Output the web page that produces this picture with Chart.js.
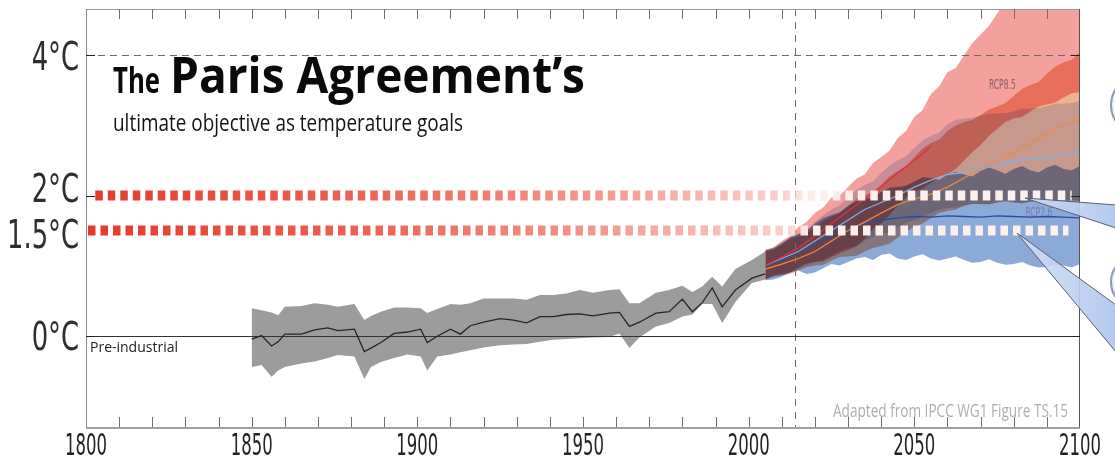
<!DOCTYPE html>
<html>
<head>
<meta charset="utf-8">
<title>The Paris Agreement's temperature goals</title>
<script src="https://cdn.jsdelivr.net/npm/chart.js@4.4.1/dist/chart.umd.min.js"></script>
<style>
  html, body { margin: 0; padding: 0; background: #fff; }
  #chart { display: block; }
</style>
</head>
<body>
<canvas id="chart" width="1115" height="468"></canvas>
<script>
const NARROW = "'Liberation Sans Narrow', 'DejaVu Sans Condensed', 'Roboto', sans-serif";
const SANS = "'Open Sans', 'Noto Sans', sans-serif";

// axes
const xTicks = [1800, 1850, 1900, 1950, 2000, 2050, 2100];
const yTicks = [0, 1.5, 2, 4];
const yTickLabels = ['0°C', '1.5°C', '2°C', '4°C'];
const yMajor = [0, 2, 4];

// simulated historical warming, mean and 5-95% range
const histYears = [1850, 1853, 1856, 1858, 1860, 1865, 1869, 1873, 1876, 1881, 1884, 1886, 1889, 1893, 1897,
  1901, 1903, 1906, 1910, 1913, 1916, 1920, 1925, 1929, 1933, 1937, 1941, 1945, 1949, 1953,
  1958, 1961, 1964, 1967, 1972, 1976, 1980, 1983, 1986, 1989, 1992, 1996, 2001, 2005];
const histMean = [-0.05, 0.0, -0.15, -0.09, 0.02, 0.02, 0.08, 0.11, 0.07, 0.09, -0.23, -0.18, -0.1, 0.03, 0.05,
  0.09, -0.1, -0.01, 0.09, 0.02, 0.14, 0.19, 0.24, 0.22, 0.18, 0.27, 0.27, 0.3, 0.31, 0.28,
  0.32, 0.33, 0.13, 0.19, 0.32, 0.34, 0.52, 0.34, 0.47, 0.68, 0.41, 0.65, 0.82, 0.88];
const histHigh = [0.39, 0.36, 0.33, 0.29, 0.41, 0.42, 0.46, 0.44, 0.41, 0.45, 0.22, 0.28, 0.34, 0.4, 0.4,
  0.39, 0.32, 0.38, 0.45, 0.44, 0.46, 0.53, 0.53, 0.53, 0.51, 0.58, 0.58, 0.6, 0.65, 0.61,
  0.65, 0.66, 0.46, 0.46, 0.61, 0.65, 0.71, 0.62, 0.7, 0.84, 0.7, 0.95, 1.08, 1.2];
const histLow = [-0.45, -0.42, -0.59, -0.5, -0.45, -0.4, -0.37, -0.32, -0.28, -0.3, -0.62, -0.45, -0.38, -0.32, -0.27,
  -0.3, -0.5, -0.3, -0.27, -0.24, -0.21, -0.17, -0.14, -0.13, -0.12, -0.09, -0.06, -0.05, -0.04, -0.03,
  -0.02, 0.03, -0.18, -0.03, 0.13, 0.18, 0.27, 0.3, 0.45, 0.45, 0.18, 0.48, 0.75, 0.8];

// RCP ranges (5-95%), sampled every 2.5 years
const bandYears = [2005, 2007.5, 2010, 2012.5, 2015, 2017.5, 2020, 2022.5, 2025, 2027.5,
  2030, 2032.5, 2035, 2037.5, 2040, 2042.5, 2045, 2047.5, 2050, 2052.5,
  2055, 2057.5, 2060, 2062.5, 2065, 2067.5, 2070, 2072.5, 2075, 2077.5,
  2080, 2082.5, 2085, 2087.5, 2090, 2092.5, 2095, 2097.5, 2100];
const rcp85High = [1.22, 1.26, 1.35, 1.42, 1.55, 1.62, 1.75, 1.83, 1.97, 2.0,
  2.12, 2.24, 2.3, 2.46, 2.55, 2.64, 2.82, 2.92, 3.12, 3.22,
  3.45, 3.56, 3.76, 3.82, 4.0, 4.18, 4.3, 4.42, 4.6, 4.78,
  4.9, 5.05, 5.2, 5.36, 5.5, 5.6, 5.75, 5.9, 6.0];
const rcp85Low = [0.8, 0.86, 0.88, 0.9, 0.97, 1.03, 1.05, 1.06, 1.12, 1.18,
  1.22, 1.27, 1.38, 1.52, 1.6, 1.72, 1.85, 1.97, 2.05, 2.1,
  2.18, 2.26, 2.3, 2.38, 2.5, 2.62, 2.72, 2.85, 2.95, 3.05,
  3.1, 3.12, 3.2, 3.27, 3.3, 3.33, 3.4, 3.46, 3.48];
const rcp60High = [1.2, 1.23, 1.3, 1.38, 1.42, 1.46, 1.55, 1.64, 1.7, 1.75,
  1.85, 1.95, 2.0, 2.05, 2.15, 2.27, 2.35, 2.42, 2.55, 2.67,
  2.75, 2.8, 2.92, 3.0, 3.05, 3.08, 3.15, 3.23, 3.27, 3.32,
  3.42, 3.52, 3.58, 3.62, 3.74, 3.84, 3.9, 3.94, 4.05];
const rcp60Low = [0.8, 0.84, 0.86, 0.88, 0.93, 0.98, 1.0, 1.01, 1.07, 1.12,
  1.13, 1.14, 1.2, 1.25, 1.28, 1.31, 1.4, 1.49, 1.55, 1.6,
  1.68, 1.75, 1.78, 1.8, 1.85, 1.88, 1.88, 1.87, 1.9, 1.92,
  1.9, 1.89, 1.91, 1.93, 1.92, 1.91, 1.92, 1.93, 1.92];
const rcp45High = [1.2, 1.24, 1.3, 1.4, 1.45, 1.5, 1.62, 1.72, 1.8, 1.86,
  1.97, 2.08, 2.15, 2.2, 2.32, 2.43, 2.5, 2.56, 2.68, 2.79,
  2.85, 2.9, 3.02, 3.08, 3.1, 3.11, 3.14, 3.17, 3.17, 3.18,
  3.2, 3.24, 3.24, 3.25, 3.28, 3.31, 3.31, 3.32, 3.35];
const rcp45Low = [0.8, 0.84, 0.86, 0.9, 0.95, 1.01, 1.05, 1.08, 1.15, 1.21,
  1.25, 1.28, 1.35, 1.41, 1.45, 1.48, 1.55, 1.61, 1.65, 1.69,
  1.75, 1.8, 1.82, 1.83, 1.86, 1.88, 1.88, 1.88, 1.9, 1.91,
  1.9, 1.89, 1.91, 1.93, 1.92, 1.91, 1.92, 1.93, 1.92];
const rcp26High = [1.22, 1.25, 1.32, 1.4, 1.45, 1.5, 1.6, 1.68, 1.72, 1.76,
  1.85, 1.92, 1.95, 1.97, 2.05, 2.11, 2.12, 2.14, 2.2, 2.26,
  2.25, 2.22, 2.3, 2.34, 2.3, 2.27, 2.35, 2.4, 2.36, 2.31,
  2.38, 2.42, 2.36, 2.33, 2.4, 2.44, 2.38, 2.36, 2.42];
const rcp26Low = [0.79, 0.8, 0.84, 0.9, 0.93, 0.88, 0.9, 0.96, 1.02, 1.0,
  1.05, 1.1, 1.12, 1.08, 1.15, 1.17, 1.1, 1.08, 1.13, 1.16,
  1.1, 1.07, 1.1, 1.13, 1.08, 1.04, 1.05, 1.09, 1.04, 1.01,
  1.02, 1.05, 1.0, 0.97, 0.98, 1.01, 1.0, 0.97, 1.02];

// multi-model means, every 5 years
const meanYears = [2005, 2010, 2015, 2020, 2025, 2030, 2035, 2040, 2045, 2050,
  2055, 2060, 2065, 2070, 2075, 2080, 2085, 2090, 2095, 2100];
const rcp85Mean = [1.0, 1.12, 1.25, 1.42, 1.6, 1.78, 1.95, 2.13, 2.32, 2.5, 2.7];
const rcp60Mean = [0.95, 1.02, 1.1, 1.2, 1.35, 1.5, 1.62, 1.75, 1.87, 1.95, 2.02, 2.12, 2.25, 2.38, 2.5, 2.62, 2.75, 2.88, 3.0, 3.1];
const rcp45Mean = [1.0, 1.1, 1.2, 1.35, 1.5, 1.65, 1.8, 1.9, 2.0, 2.12, 2.22, 2.3, 2.33, 2.38, 2.45, 2.5, 2.52, 2.55, 2.58, 2.62];
const rcp26Mean = [1.0, 1.08, 1.2, 1.3, 1.42, 1.52, 1.6, 1.65, 1.68, 1.7, 1.69, 1.71, 1.7, 1.69, 1.71, 1.7, 1.69, 1.7, 1.69, 1.68];

// Paris goals and reference markers
const goalLevels = [2, 1.5];
const goalStart = [1802.8, 1800.6];
const goalEnd = [2097.5, 2096.5];
const ceilingLevel = 4;
const todayYear = 2014;

const pts = (xs, ys) => ys.map((y, i) => ({ x: xs[i], y }));

function goalGradient(context) {
  const area = context.chart.chartArea;
  if (!area) return 'rgb(232,60,48)';
  const g = context.chart.ctx.createLinearGradient(area.left, 0, area.right, 0);
  g.addColorStop(0, 'rgb(230,56,44)');
  g.addColorStop(0.3, 'rgb(236,102,90)');
  g.addColorStop(0.5, 'rgb(242,148,138)');
  g.addColorStop(0.7, 'rgb(249,208,203)');
  g.addColorStop(0.73, 'rgb(252,238,234)');
  g.addColorStop(1, 'rgb(252,241,238)');
  return g;
}

function lineSet(data, color, width) {
  return { data, borderColor: color, borderWidth: width, pointRadius: 0, fill: false, tension: 0 };
}

function bandSet(high, low, color) {
  return [
    { data: pts(bandYears, high), backgroundColor: color, borderWidth: 0, pointRadius: 0, fill: '+1' },
    { data: pts(bandYears, low), borderWidth: 0, pointRadius: 0, fill: false }
  ];
}

// earlier datasets are painted on top
const datasets = [
  ...goalLevels.map((lvl, i) => ({
    data: [{ x: goalStart[i], y: lvl }, { x: goalEnd[i], y: lvl }],
    borderColor: goalGradient, borderWidth: 10, borderDash: [7.5, 5],
    borderCapStyle: 'butt', pointRadius: 0, fill: false
  })),
  lineSet(pts(meanYears, rcp85Mean), 'rgb(222,48,66)', 1.3),
  lineSet(pts(meanYears, rcp45Mean), 'rgb(125,178,228)', 1.3),
  lineSet(pts(meanYears, rcp60Mean), 'rgb(238,138,60)', 1.3),
  lineSet(pts(meanYears, rcp26Mean), 'rgb(38,78,165)', 1.3),
  lineSet(pts(histYears, histMean), '#262626', 1.3),
  ...bandSet(rcp85High, rcp85Low, 'rgb(244,160,156)'),
  ...bandSet(rcp60High, rcp60Low, 'rgb(242,176,147)'),
  ...bandSet(rcp45High, rcp45Low, 'rgb(210,222,245)'),
  ...bandSet(rcp26High, rcp26Low, 'rgb(140,170,215)'),
  { data: pts(histYears, histHigh), backgroundColor: 'rgb(156,156,156)', borderWidth: 0, pointRadius: 0, fill: '+1' },
  { data: pts(histYears, histLow), borderWidth: 0, pointRadius: 0, fill: false }
];

function squeeze(ctx, text, x, y, font, color, opts) {
  ctx.save();
  ctx.font = font;
  const w = ctx.measureText(text).width;
  const sx = opts.width ? opts.width / w : (opts.scale || 1);
  ctx.fillStyle = color;
  ctx.textBaseline = 'alphabetic';
  ctx.textAlign = opts.align || 'left';
  ctx.translate(x, y);
  ctx.scale(sx, 1);
  ctx.fillText(text, 0, 0);
  ctx.restore();
  return sx;
}

const paintPlugin = {
  id: 'paint',
  beforeDraw(chart) {
    const ctx = chart.ctx;
    ctx.save();
    ctx.fillStyle = '#fff';
    ctx.fillRect(0, 0, chart.width, chart.height);
    ctx.restore();
    // the uncertainty bands darken where they overlap
    ctx.globalCompositeOperation = 'multiply';
  },
  beforeDatasetsDraw(chart) {
    const ctx = chart.ctx;
    ctx.globalCompositeOperation = 'source-over';
    const { left, right, top, bottom } = chart.chartArea;
    const xs = chart.scales.x, ys = chart.scales.y;

    ctx.save();
    ctx.beginPath();
    ctx.rect(left, top, right - left, bottom - top);
    ctx.clip();

    ctx.strokeStyle = '#6a6a6a';
    ctx.lineWidth = 1;
    ctx.setLineDash([7, 5]);
    const yc = Math.round(ys.getPixelForValue(ceilingLevel)) + 0.5;
    ctx.beginPath(); ctx.moveTo(left, yc); ctx.lineTo(right, yc); ctx.stroke();
    ctx.setLineDash([7, 6]);
    const xt = Math.round(xs.getPixelForValue(todayYear)) + 0.5;
    ctx.beginPath(); ctx.moveTo(xt, top); ctx.lineTo(xt, bottom); ctx.stroke();
    ctx.setLineDash([]);

    ctx.strokeStyle = '#333';
    const y0 = Math.round(ys.getPixelForValue(0)) + 0.5;
    ctx.beginPath(); ctx.moveTo(left, y0); ctx.lineTo(right, y0); ctx.stroke();

    squeeze(ctx, 'RCP8.5', xs.getPixelForValue(2072.5), ys.getPixelForValue(3.52), '14px ' + NARROW, 'rgb(140,98,108)', { width: 27 });
    squeeze(ctx, 'RCP2.6', xs.getPixelForValue(2083.5), ys.getPixelForValue(1.69), '14px ' + NARROW, 'rgba(110,128,170,0.9)', { width: 27 });
    ctx.restore();
  },
  afterDraw(chart) {
    const ctx = chart.ctx;
    ctx.globalCompositeOperation = 'source-over';
    const { left, right, top, bottom } = chart.chartArea;
    const xs = chart.scales.x, ys = chart.scales.y;

    // frame
    ctx.save();
    ctx.lineWidth = 1;
    ctx.strokeStyle = '#9a9a9a';
    ctx.beginPath(); ctx.moveTo(left, top + 0.5); ctx.lineTo(right, top + 0.5); ctx.stroke();
    ctx.strokeStyle = '#8a8a8a';
    ctx.beginPath(); ctx.moveTo(left + 0.5, top); ctx.lineTo(left + 0.5, bottom); ctx.stroke();
    ctx.strokeStyle = '#555';
    ctx.beginPath(); ctx.moveTo(right - 0.5, top); ctx.lineTo(right - 0.5, bottom); ctx.stroke();
    ctx.strokeStyle = '#a0a0a0';
    ctx.lineWidth = 2;
    ctx.beginPath(); ctx.moveTo(left, bottom); ctx.lineTo(right, bottom); ctx.stroke();

    // inward decade ticks
    ctx.lineWidth = 1;
    ctx.strokeStyle = '#6f6f6f';
    for (let yr = xs.min + 10; yr < xs.max; yr += 10) {
      const px = Math.round(xs.getPixelForValue(yr)) + 0.5;
      ctx.beginPath();
      ctx.moveTo(px, top); ctx.lineTo(px, top + 10);
      ctx.moveTo(px, bottom - 1); ctx.lineTo(px, bottom - 11);
      ctx.stroke();
    }
    ctx.strokeStyle = '#222';
    yMajor.forEach(v => {
      const py = Math.round(ys.getPixelForValue(v)) + 0.5;
      ctx.beginPath();
      ctx.moveTo(left, py); ctx.lineTo(left + 9, py);
      ctx.moveTo(right, py); ctx.lineTo(right - 9, py);
      ctx.stroke();
    });
    ctx.restore();

    // tick labels
    ctx.save();
    ctx.font = '39px ' + NARROW;
    const ySquash = 72 / ctx.measureText('1.5°C').width;
    const labelDrop = { 0: 14.5, 1.5: 17.5, 2: 6, 4: 14.5 };
    yTicks.forEach((v, i) => {
      squeeze(ctx, yTickLabels[i], 79, ys.getPixelForValue(v) + labelDrop[v], '39px ' + NARROW, '#2e2e2e', { scale: ySquash, align: 'right' });
    });
    ctx.font = '30px ' + NARROW;
    const xSquash = 42 / ctx.measureText('1850').width;
    xTicks.forEach(v => {
      squeeze(ctx, String(v), xs.getPixelForValue(v), 455, '30px ' + NARROW, '#222', { scale: xSquash, align: 'center' });
    });
    ctx.restore();

    // headline
    squeeze(ctx, 'The', 113, 93, 'bold 35px ' + SANS, '#0a0a0a', { width: 47 });
    squeeze(ctx, 'Paris Agreement’s', 170, 93, 'bold 50px ' + SANS, '#0a0a0a', { width: 415 });
    squeeze(ctx, 'ultimate objective as temperature goals', 113, 131, '24px ' + SANS, '#151515', { width: 350 });
    squeeze(ctx, 'Pre-industrial', 90, 352, '15px ' + SANS, '#222', { width: 88 });
    squeeze(ctx, 'Adapted from IPCC WG1 Figure TS.15', 833, 417, '18px ' + SANS, '#aeaeae', { width: 235 });

    // speech-bubble pointers running off the right edge
    ctx.save();
    const g = ctx.createLinearGradient(1015, 0, 1115, 0);
    g.addColorStop(0, 'rgba(214,226,246,0.9)');
    g.addColorStop(1, 'rgba(172,196,236,0.9)');
    ctx.fillStyle = g;
    ctx.strokeStyle = '#5b606c';
    ctx.lineWidth = 1;
    ctx.beginPath();
    ctx.moveTo(1025, 198); ctx.lineTo(1116, 205); ctx.lineTo(1116, 228); ctx.closePath();
    ctx.fill(); ctx.stroke();
    ctx.beginPath();
    ctx.moveTo(1017, 233); ctx.lineTo(1116, 305); ctx.lineTo(1116, 352); ctx.closePath();
    ctx.fill(); ctx.stroke();
    ctx.strokeStyle = 'rgba(120,145,190,0.9)';
    ctx.fillStyle = 'rgba(236,242,252,0.9)';
    ctx.lineWidth = 2;
    ctx.beginPath(); ctx.arc(1140, 105, 29, 0, Math.PI * 2); ctx.fill(); ctx.stroke();
    ctx.beginPath(); ctx.arc(1138, 282, 27, 0, Math.PI * 2); ctx.fill(); ctx.stroke();
    ctx.restore();
  }
};

new Chart(document.getElementById('chart'), {
  type: 'line',
  data: { datasets },
  options: {
    responsive: false,
    animation: false,
    events: [],
    layout: { padding: { left: 86, right: 35, top: 9, bottom: 40 } },
    scales: {
      x: { type: 'linear', min: 1800, max: 2100, display: false },
      y: { type: 'linear', min: -1.321, max: 4.664, display: false }
    },
    plugins: {
      legend: { display: false },
      tooltip: { enabled: false },
      filler: { drawTime: 'beforeDatasetsDraw' }
    }
  },
  plugins: [paintPlugin]
});
</script>
</body>
</html>
